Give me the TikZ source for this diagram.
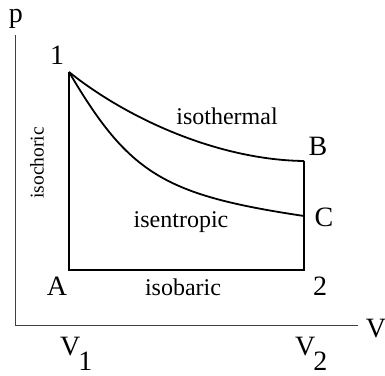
\documentclass[tikz,border=0pt]{standalone}
\usepackage{fontspec}
\setmainfont{Liberation Serif}
\begin{document}
\begin{tikzpicture}[x=1pt,y=1pt,
  word/.style={font=\fontsize{24}{28}\selectfont, inner sep=0pt, anchor=base},
  lbl/.style={font=\fontsize{28}{32}\selectfont, inner sep=0pt, anchor=base},
  small/.style={font=\fontsize{19.5}{23}\selectfont, inner sep=0pt},
  curve/.style={line width=1.8pt, line join=miter},
  axis/.style={line width=0.9pt, draw=black!75}]
\useasboundingbox (0,0) rectangle (385,375);
\coordinate (O) at (15,50);
\coordinate (Ytop) at (15,340);
\coordinate (Xend) at (358,50);
\coordinate (P1) at (69,303);
\coordinate (PA) at (69,105);
\coordinate (P2) at (304,105);
\coordinate (PB) at (304,214);
\coordinate (PC) at (304,159);
% axes
\draw[axis] (Ytop) -- (O) -- (Xend);
% cycle box
\draw[curve] (PB) -- (P2) -- (PA) -- (P1);
% isothermal
\draw[curve] (P1) .. controls (129,255) and (220,215) .. (PB);
% isentropic
\draw[curve] (P1) .. controls (129,201) and (164,180) .. (PC);
% labels
\node[lbl] (lp) at (16,352) {p};
\node[lbl] (lV) at (376,38) {V};
\node[lbl] (l1) at (57,310) {1};
\node[lbl] (lA) at (57,80) {A};
\node[lbl] (l2) at (320,80) {2};
\node[lbl] (lB) at (318,219) {B};
\node[lbl] (lC) at (324,149) {C};
\node[word] (liso) at (227,250) {isothermal};
\node[word] (lisen) at (181,148) {isentropic};
\node[word] (lisob) at (183,80) {isobaric};
\node[small, rotate=90] (lisoch) at (37,212) {isochoric};
\node[lbl, anchor=base west] (lV1) at (60,20) {V\kern-2pt\raisebox{-15pt}{1}};
\node[lbl, anchor=base west] (lV2) at (295,20) {V\kern-2pt\raisebox{-15pt}{2}};
\end{tikzpicture}
\end{document}
